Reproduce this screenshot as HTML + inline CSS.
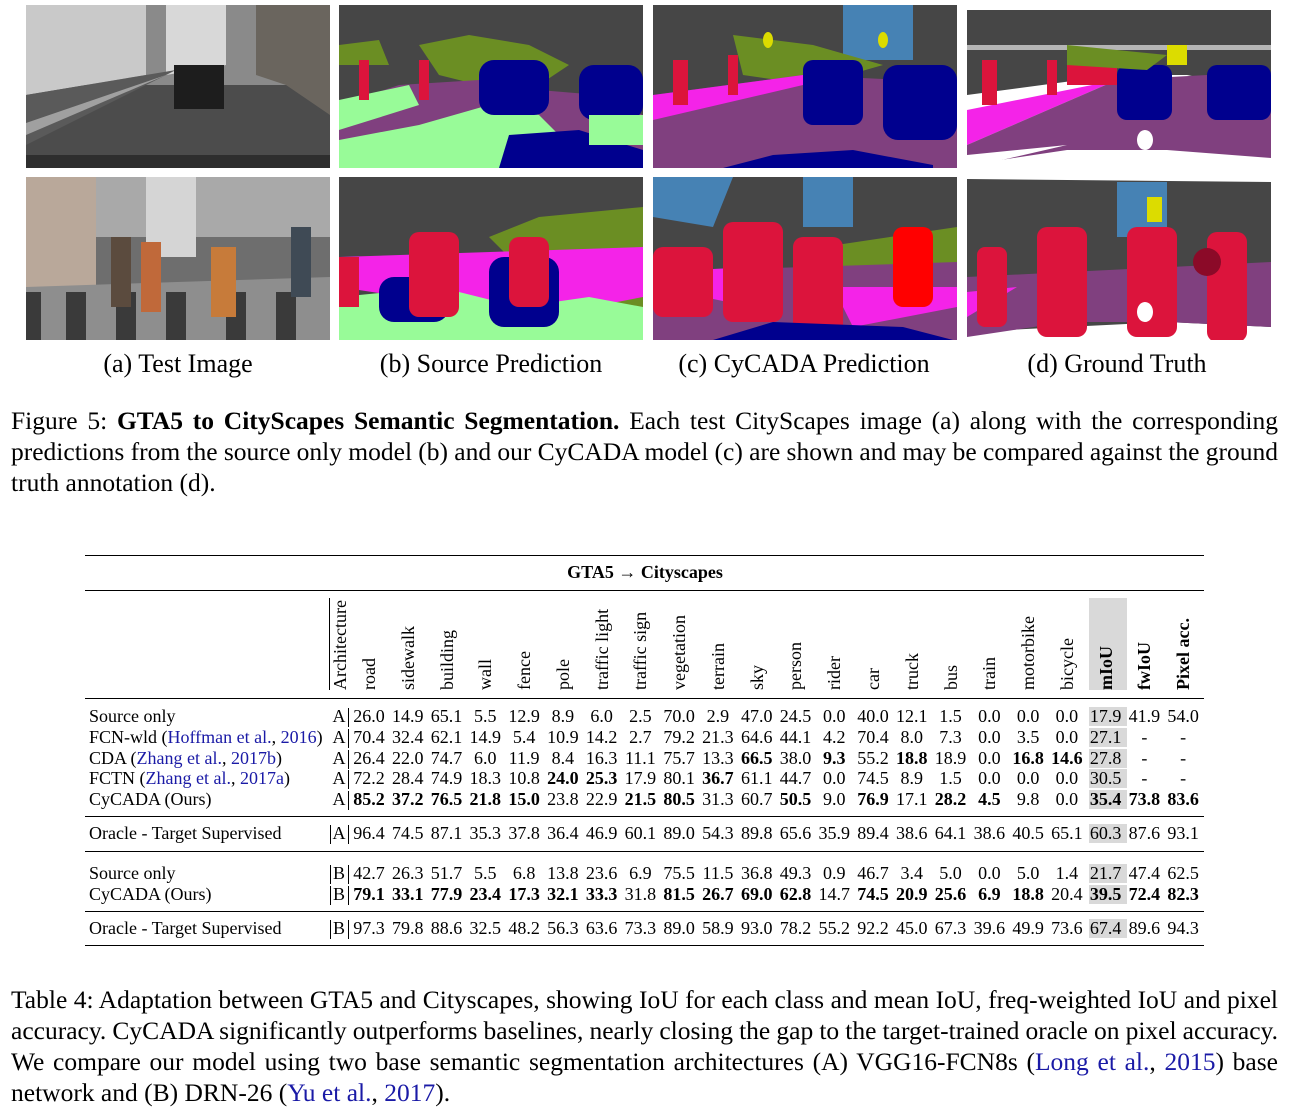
<!DOCTYPE html>
<html><head><meta charset="utf-8">
<style>
html,body{margin:0;padding:0;background:#fff;}
body{width:1290px;height:1114px;position:relative;overflow:hidden;font-family:"Liberation Serif",serif;color:#000;}
.abs{position:absolute;}
.panel{position:absolute;width:304px;height:163px;}
.sub{position:absolute;top:349px;font-size:26px;white-space:nowrap;transform:translateX(-50%);}
.cap{position:absolute;left:11px;width:1267px;font-size:25.5px;word-spacing:-1.5px;line-height:31px;text-align:justify;text-align-last:justify;white-space:nowrap;}
.cap.last{text-align-last:left;word-spacing:0;}
.rule{position:absolute;background:#000;height:1px;}
.cell{position:absolute;font-size:18px;white-space:nowrap;transform:translateX(-50%);line-height:20px;}
.lbl{position:absolute;font-size:18px;white-space:nowrap;line-height:20px;}
.hdr{position:absolute;font-size:18px;white-space:nowrap;transform-origin:0 0;transform:rotate(-90deg);line-height:20px;}
.cite{color:#1a1aa6;}
.hl{position:absolute;background:#d9d9d9;}
</style></head><body>

<svg class="panel" style="left:26px;top:5px" viewBox="0 0 304 163">
<rect width="304" height="163" fill="#4c4c4c"/>
<rect width="304" height="80" fill="#8a8a8a"/>
<polygon points="0,0 120,0 120,70 0,90" fill="#c9c9c9"/>
<polygon points="140,0 200,0 200,60 140,70" fill="#d8d8d8"/>
<polygon points="230,0 304,0 304,110 260,80 230,70" fill="#6a655e"/>
<polygon points="0,90 150,65 0,140" fill="#5a5a5a"/>
<rect x="148" y="60" width="50" height="44" fill="#1d1d1d"/>
<polygon points="0,130 140,70 0,118" fill="#cfcfcf" opacity=".6"/>
<rect x="0" y="150" width="304" height="13" fill="#2e2e2e"/>
</svg>
<svg class="panel" style="left:339px;top:5px" viewBox="0 0 304 163">
<rect width="304" height="163" fill="#464646"/>
<polygon points="80,40 130,30 190,40 230,60 200,80 140,80 100,70" fill="#6b8e23"/>
<polygon points="0,40 40,35 50,60 0,60" fill="#6b8e23"/>
<polygon points="0,100 60,80 140,75 200,85 260,90 304,110 304,150 200,150 100,140 0,155" fill="#80407f"/>
<polygon points="0,95 70,80 80,100 0,125" fill="#98fb98"/>
<polygon points="0,135 80,120 150,100 200,110 230,140 180,163 0,163" fill="#98fb98"/>
<rect x="140" y="55" width="70" height="55" rx="15" fill="#00008e"/>
<rect x="240" y="60" width="64" height="55" rx="15" fill="#00008e"/>
<polygon points="170,130 240,125 304,145 304,163 160,163" fill="#00008e"/>
<rect x="20" y="55" width="10" height="40" fill="#dc143c"/><rect x="80" y="55" width="10" height="40" fill="#dc143c"/>
<rect x="250" y="110" width="54" height="30" fill="#98fb98"/>
</svg>
<svg class="panel" style="left:653px;top:5px" viewBox="0 0 304 163">
<rect width="304" height="163" fill="#464646"/>
<rect x="190" y="0" width="70" height="55" fill="#4682b4"/>
<polygon points="80,30 160,40 230,60 160,80 90,70" fill="#6b8e23"/>
<polygon points="0,90 150,70 250,75 304,100 304,163 0,163" fill="#80407f"/>
<polygon points="0,90 150,70 150,80 0,115" fill="#f423e8"/>
<rect x="150" y="55" width="60" height="65" rx="10" fill="#00008e"/>
<rect x="230" y="60" width="74" height="75" rx="15" fill="#00008e"/>
<rect x="20" y="55" width="15" height="45" fill="#dc143c"/><rect x="75" y="50" width="10" height="40" fill="#dc143c"/>
<ellipse cx="115" cy="35" rx="5" ry="8" fill="#dcdc00"/><ellipse cx="230" cy="35" rx="5" ry="8" fill="#dcdc00"/>
<polygon points="70,163 120,150 200,145 280,160 280,163" fill="#00008e"/>
</svg>
<svg class="panel" style="left:967px;top:5px" viewBox="0 0 304 163">
<rect width="304" height="163" fill="#fff"/>
<polygon points="0,5 304,5 304,110 270,80 220,70 150,70 0,90" fill="#464646"/>
<rect x="0" y="40" width="304" height="5" fill="#fff" opacity=".6"/>
<polygon points="0,105 150,75 0,140" fill="#f423e8"/>
<polygon points="0,140 150,75 240,70 304,100 304,153 200,145 100,145 0,160" fill="#80407f"/>
<polygon points="0,150 100,140 0,163" fill="#fff"/>
<rect x="150" y="60" width="55" height="55" rx="10" fill="#00008e"/>
<rect x="240" y="60" width="64" height="55" rx="10" fill="#00008e"/>
<rect x="15" y="55" width="15" height="45" fill="#dc143c"/><rect x="80" y="55" width="10" height="35" fill="#dc143c"/><rect x="100" y="55" width="50" height="25" fill="#dc143c"/>
<polygon points="100,40 200,50 180,65 100,60" fill="#6b8e23"/>
<rect x="200" y="40" width="20" height="20" fill="#dcdc00"/>
<ellipse cx="178" cy="135" rx="8" ry="10" fill="#fff"/>
</svg>

<svg class="panel" style="left:26px;top:177px" viewBox="0 0 304 163">
<rect width="304" height="163" fill="#6e6e6e"/>
<rect width="304" height="60" fill="#a9a9a9"/>
<rect width="70" height="110" fill="#b9a89a"/>
<rect x="120" width="50" height="80" fill="#d5d5d5"/>
<polygon points="0,110 304,100 304,163 0,163" fill="#8e8e8e"/>
<g fill="#3a3a3a"><rect x="0" y="115" width="15" height="48"/><rect x="40" y="115" width="20" height="48"/><rect x="90" y="115" width="20" height="48"/><rect x="140" y="115" width="20" height="48"/><rect x="200" y="115" width="20" height="48"/><rect x="250" y="115" width="20" height="48"/></g>
<rect x="85" y="60" width="20" height="70" fill="#5b4b3e"/><rect x="115" y="65" width="20" height="70" fill="#c0693a"/><rect x="185" y="70" width="25" height="70" fill="#c77b3a"/><rect x="265" y="50" width="20" height="70" fill="#3f4a55"/>
</svg>
<svg class="panel" style="left:339px;top:177px" viewBox="0 0 304 163">
<rect width="304" height="163" fill="#464646"/>
<polygon points="150,60 200,40 304,30 304,140 240,130 200,110" fill="#6b8e23"/>
<polygon points="0,80 304,70 304,120 200,140 0,110" fill="#f423e8"/>
<polygon points="0,120 100,110 180,130 250,120 304,130 304,163 0,163" fill="#98fb98"/>
<rect x="40" y="100" width="70" height="45" rx="15" fill="#00008e"/>
<rect x="150" y="80" width="70" height="70" rx="15" fill="#00008e"/>
<rect x="70" y="55" width="50" height="85" rx="10" fill="#dc143c"/>
<rect x="170" y="60" width="40" height="70" rx="10" fill="#dc143c"/>
<rect x="0" y="80" width="20" height="50" fill="#dc143c"/>
</svg>
<svg class="panel" style="left:653px;top:177px" viewBox="0 0 304 163">
<rect width="304" height="163" fill="#464646"/>
<polygon points="0,0 80,0 60,50 0,40" fill="#4682b4"/>
<rect x="150" y="0" width="50" height="50" fill="#4682b4"/>
<polygon points="170,70 304,50 304,100 200,100" fill="#6b8e23"/>
<polygon points="0,95 304,85 304,163 0,163" fill="#80407f"/>
<polygon points="0,95 100,90 100,130 0,110" fill="#f423e8"/>
<polygon points="180,110 304,110 304,130 200,150" fill="#f423e8"/>
<rect x="0" y="70" width="60" height="70" rx="10" fill="#dc143c"/>
<rect x="70" y="45" width="60" height="100" rx="10" fill="#dc143c"/>
<rect x="140" y="60" width="50" height="110" rx="10" fill="#dc143c"/>
<rect x="240" y="50" width="40" height="80" rx="10" fill="#ff0000"/>
<polygon points="60,163 120,145 250,150 300,163" fill="#00008e"/>
</svg>
<svg class="panel" style="left:967px;top:177px" viewBox="0 0 304 163">
<rect width="304" height="163" fill="#fff"/>
<polygon points="0,2 304,5 304,150 200,145 0,155" fill="#464646"/>
<rect x="150" y="5" width="50" height="55" fill="#4682b4"/>
<polygon points="0,100 304,85 304,150 200,145 100,145 0,160" fill="#80407f"/>
<polygon points="0,115 50,110 0,140" fill="#f423e8"/>
<rect x="10" y="70" width="30" height="80" rx="8" fill="#dc143c"/>
<rect x="70" y="50" width="50" height="110" rx="10" fill="#dc143c"/>
<rect x="160" y="50" width="50" height="110" rx="10" fill="#dc143c"/>
<rect x="240" y="55" width="40" height="110" rx="10" fill="#dc143c"/>
<ellipse cx="240" cy="85" rx="14" ry="14" fill="#8b0a28"/>
<rect x="180" y="20" width="15" height="25" fill="#dcdc00"/>
<ellipse cx="178" cy="135" rx="8" ry="10" fill="#fff"/>
</svg>

<div class="sub" style="left:178px">(a) Test Image</div>
<div class="sub" style="left:491px">(b) Source Prediction</div>
<div class="sub" style="left:804px">(c) CyCADA Prediction</div>
<div class="sub" style="left:1117px">(d) Ground Truth</div>

<div>
<div class="cap" style="top:405px">Figure 5: <b>GTA5 to CityScapes Semantic Segmentation.</b> Each test CityScapes image (a) along with the corresponding</div>
<div class="cap" style="top:436px">predictions from the source only model (b) and our CyCADA model (c) are shown and may be compared against the ground</div>
<div class="cap last" style="top:467px">truth annotation (d).</div>
</div>

<div id="table"></div>

<div>
<div class="cap" style="top:984px">Table 4: Adaptation between GTA5 and Cityscapes, showing IoU for each class and mean IoU, freq-weighted IoU and pixel</div>
<div class="cap" style="top:1015px">accuracy. CyCADA significantly outperforms baselines, nearly closing the gap to the target-trained oracle on pixel accuracy.</div>
<div class="cap" style="top:1046px">We compare our model using two base semantic segmentation architectures (A) VGG16-FCN8s (<span class="cite">Long et al.</span>, <span class="cite">2015</span>) base</div>
<div class="cap last" style="top:1077px">network and (B) DRN-26 (<span class="cite">Yu et al.</span>, <span class="cite">2017</span>).</div>
</div>

<script>
const classes=["road","sidewalk","building","wall","fence","pole","traffic light","traffic sign","vegetation","terrain","sky","person","rider","car","truck","bus","train","motorbike","bicycle","mIoU","fwIoU","Pixel acc."];
const rowLabels=["Source only",'FCN-wld (<span class="cite">Hoffman et al.</span>, <span class="cite">2016</span>)','CDA (<span class="cite">Zhang et al.</span>, <span class="cite">2017b</span>)','FCTN (<span class="cite">Zhang et al.</span>, <span class="cite">2017a</span>)',"CyCADA (Ours)","Oracle - Target Supervised","Source only","CyCADA (Ours)","Oracle - Target Supervised"];
const rowArch=["A","A","A","A","A","A","B","B","B"];
const rowValues=[
"26.0 14.9 65.1 5.5 12.9 8.9 6.0 2.5 70.0 2.9 47.0 24.5 0.0 40.0 12.1 1.5 0.0 0.0 0.0 17.9 41.9 54.0",
"70.4 32.4 62.1 14.9 5.4 10.9 14.2 2.7 79.2 21.3 64.6 44.1 4.2 70.4 8.0 7.3 0.0 3.5 0.0 27.1 - -",
"26.4 22.0 74.7 6.0 11.9 8.4 16.3 11.1 75.7 13.3 66.5 38.0 9.3 55.2 18.8 18.9 0.0 16.8 14.6 27.8 - -",
"72.2 28.4 74.9 18.3 10.8 24.0 25.3 17.9 80.1 36.7 61.1 44.7 0.0 74.5 8.9 1.5 0.0 0.0 0.0 30.5 - -",
"85.2 37.2 76.5 21.8 15.0 23.8 22.9 21.5 80.5 31.3 60.7 50.5 9.0 76.9 17.1 28.2 4.5 9.8 0.0 35.4 73.8 83.6",
"96.4 74.5 87.1 35.3 37.8 36.4 46.9 60.1 89.0 54.3 89.8 65.6 35.9 89.4 38.6 64.1 38.6 40.5 65.1 60.3 87.6 93.1",
"42.7 26.3 51.7 5.5 6.8 13.8 23.6 6.9 75.5 11.5 36.8 49.3 0.9 46.7 3.4 5.0 0.0 5.0 1.4 21.7 47.4 62.5",
"79.1 33.1 77.9 23.4 17.3 32.1 33.3 31.8 81.5 26.7 69.0 62.8 14.7 74.5 20.9 25.6 6.9 18.8 20.4 39.5 72.4 82.3",
"97.3 79.8 88.6 32.5 48.2 56.3 63.6 73.3 89.0 58.9 93.0 78.2 55.2 92.2 45.0 67.3 39.6 49.9 73.6 67.4 89.6 94.3"];
const rowBold=[[],[],[10,12,14,17,18],[5,6,9],[0,1,2,3,4,7,8,11,13,15,16,19,20,21],[],[],[0,1,2,3,4,5,6,8,9,10,11,13,14,15,16,17,19,20,21],[]];
const rowY=[706,727,748,768,789,823,863,884,918];

const T=document.getElementById('table');
function colX(i){return 369+i*38.77;}
function add(cls,style,html){const d=document.createElement('div');d.className=cls;d.style.cssText=style;d.innerHTML=html;T.appendChild(d);return d;}
[[555,1.4],[590,1],[698,1.4],[816,1],[851,1.4],[911,1],[945,1.4]].forEach(r=>{
 const d=add('rule','left:85px;width:1119px;top:'+r[0]+'px;height:'+r[1]+'px','');
 
 
});
const ti=add('lbl','left:645px;top:562px;transform:translateX(-50%);font-weight:bold','GTA5 &rarr; Cityscapes');


const hh=add('hl','left:1089px;top:598px;width:38px;height:92px','');


rowY.forEach(y=>{const h=add('hl','left:1089px;top:'+(y+1)+'px;width:38px;height:19px','');
 
 });
const vl=add('abs','left:329px;top:598px;width:1px;height:92px;background:#000','');


rowY.forEach((y,r)=>{
 const v=add('abs','left:348px;top:'+(y+2)+'px;width:1px;height:19px;background:#000','');
 
 
 if(r>=5){const v2=add('abs','left:330px;top:'+(y+2)+'px;width:1px;height:19px;background:#000','');
  
  }
});
const ah=add('hdr','left:330px;top:690px','Architecture');


classes.forEach((c,i)=>{
 const d=add('hdr','left:'+(colX(i)-10)+'px;top:690px'+(i>=19?';font-weight:bold':''),c);
 
 
});
rowY.forEach((y,r)=>{
 const l=add('lbl','left:89px;top:'+y+'px',rowLabels[r]);
 
 
 const a=add('cell','left:339px;top:'+y+'px',rowArch[r]);
 
 
 rowValues[r].split(' ').forEach((v,i)=>{
  const b=rowBold[r].indexOf(i)>=0;
  const c=add('cell','left:'+colX(i)+'px;top:'+y+'px'+(b?';font-weight:bold':''),v);
  
  
 });
});
</script>
</body></html>
